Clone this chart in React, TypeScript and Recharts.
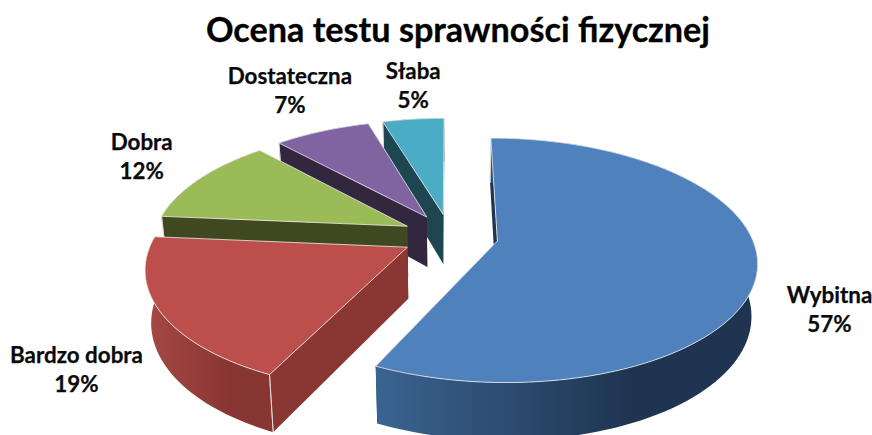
import React from "react";
import { PieChart, Pie } from "recharts";

const categories = ["Słaba", "Dostateczna", "Dobra", "Bardzo dobra", "Wybitna"];
const shares = [4.6, 7.2, 11.8, 19.25, 57.15];
const topColors = ["#4bacc6", "#8064a2", "#9bbb59", "#bc4f4c", "#4f81bd"];
const cutColors = ["#1e4650", "#33273f", "#404820", "#8a3734", "#1e3450"];
const wallFrom = ["#1e4650", "#33273f", "#404820", "#a64844", "#3a6491"];
const wallTo = ["#1e4650", "#33273f", "#404820", "#883633", "#1e3450"];
const labelShift: [number, number][] = [[0, -32], [-32, -39], [-58, -21], [-84, 59], [72, 42]];

const data = categories.map((name, i) => ({ name, value: shares[i], fill: topColors[i], idx: i }));

const WIDTH = 872, HEIGHT = 435, CX = 450, CY = 236, R = 254;
const TILT = 0.463, PERSP = 0.157, EXPLODE = 0.19, DEPTH = 51;
const RAD = Math.PI / 180;
const FONT = "Lato, 'Open Sans', sans-serif";

type P = [number, number];
// plane coordinates (unit = radius) to screen
const project = (cx: number, cy: number, r: number, X: number, Y: number): P => {
  const k = 1 / (1 + PERSP * Y);
  return [cx + r * X * k, cy - r * TILT * Y * k];
};
const extrude = (cx: number, p: P, Y: number): P => [
  p[0] - (p[0] - cx) * 0.02,
  p[1] + DEPTH * (1 - 0.13 * Y),
];
const toPath = (pts: P[]) => "M" + pts.map((p) => `${p[0].toFixed(2)},${p[1].toFixed(2)}`).join("L") + "Z";

function Slice3D(props: any) {
  const { cx, cy, outerRadius: r, startAngle, endAngle, payload } = props;
  const i: number = payload?.idx ?? props.idx;
  const mid = ((startAngle + endAngle) / 2) * RAD;
  const ox = EXPLODE * Math.cos(mid), oy = EXPLODE * Math.sin(mid);
  const n = Math.max(8, Math.round(Math.abs(endAngle - startAngle) / 2));
  const rim: { p: P; Y: number }[] = [];
  for (let k = 0; k <= n; k++) {
    const a = (startAngle + ((endAngle - startAngle) * k) / n) * RAD;
    const X = ox + Math.cos(a), Y = oy + Math.sin(a);
    rim.push({ p: project(cx, cy, r, X, Y), Y });
  }
  const apex = project(cx, cy, r, ox, oy);
  const apexLow = extrude(cx, apex, oy);
  const low = rim.map((q) => extrude(cx, q.p, q.Y));
  const first = rim[0], last = rim[n];
  const xs = rim.map((q) => q.p[0]);
  const gid = `wall-${i}`;
  const x1 = Math.min(...xs);
  const x2 = Math.max(...xs);
  return (
    <g>
      <defs>
        <linearGradient id={gid} gradientUnits="userSpaceOnUse" x1={x1} x2={x1 + (x2 - x1) * 0.68} y1={0} y2={0}>
          <stop offset="0" stopColor={wallFrom[i]} />
          <stop offset="1" stopColor={wallTo[i]} />
        </linearGradient>
      </defs>
      <path d={toPath([apex, first.p, low[0], apexLow])} fill={cutColors[i]} />
      <path d={toPath([apex, last.p, low[n], apexLow])} fill={cutColors[i]} />
      <path d={toPath([...rim.map((q) => q.p), ...low.slice().reverse()])} fill={`url(#${gid})`} />
      <path
        d={toPath([last.p, low[n]])}
        stroke="#e6e0e0"
        strokeWidth={0.8}
        fill="none"
      />
      <path
        d={toPath([apex, ...rim.map((q) => q.p)])}
        fill={topColors[i]}
        stroke="#eeeeee"
        strokeWidth={0.8}
        strokeLinejoin="round"
      />
    </g>
  );
}

function SliceLabel(props: any) {
  const { cx, cy, outerRadius: r, midAngle, name, value, index } = props;
  const a = midAngle * RAD;
  const f = 1 + EXPLODE;
  const [sx, sy] = project(cx, cy, r, f * Math.cos(a), f * Math.sin(a));
  const [dx, dy] = labelShift[index];
  const x = sx + dx, y = sy + dy;
  return (
    <text x={x} textAnchor="middle" fontFamily={FONT} fontWeight={700} fontSize={22.4} fill="#0a0a0a" stroke="#0a0a0a" strokeWidth={0.25}>
      <tspan x={x} y={y - 8}>{name}</tspan>
      <tspan x={x} y={y + 21}>{Math.round(value)}%</tspan>
    </text>
  );
}

export default function App() {
  return (
    <div style={{ position: "absolute", left: 0, top: 0, width: WIDTH, height: HEIGHT, background: "#fff" }}>
      <PieChart width={WIDTH} height={HEIGHT} margin={{ top: 0, right: 0, bottom: 0, left: 0 }}>
        <text x={458} y={42} textAnchor="middle" fontFamily={FONT} fontWeight={700} fontSize={34.2} fill="#000000" stroke="#000000" strokeWidth={0.3}>
          Ocena testu sprawności fizycznej
        </text>
        <Pie
          data={data}
          dataKey="value"
          nameKey="name"
          cx={CX}
          cy={CY}
          innerRadius={0}
          outerRadius={R}
          startAngle={90}
          endAngle={450}
          stroke="none"
          isAnimationActive={false}
          shape={Slice3D}
          label={SliceLabel}
          labelLine={false}
        />
      </PieChart>
    </div>
  );
}
